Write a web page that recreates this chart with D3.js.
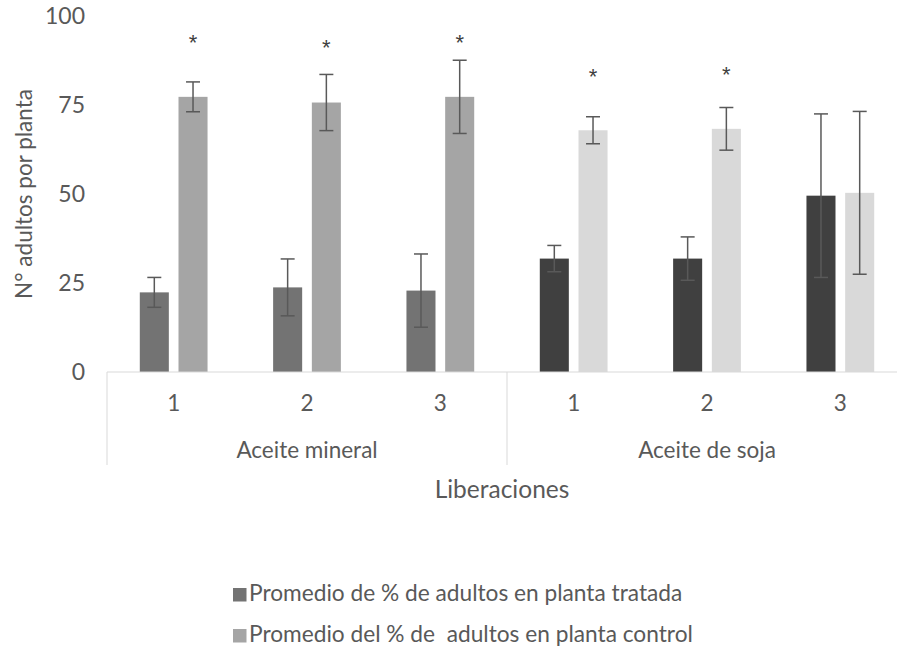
<!DOCTYPE html>
<html>
<head>
<meta charset="utf-8">
<script src="https://cdn.jsdelivr.net/npm/d3@7/dist/d3.min.js"></script>
<style>
  html, body { margin: 0; padding: 0; background: #fff; }
  svg { display: block; font-family: Lato, "Open Sans", sans-serif; }
</style>
</head>
<body>
<svg id="chart" width="897" height="654"></svg>
<script>
// Releases (Liberaciones) grouped by oil treatment
const groups = ["Aceite mineral", "Aceite de soja"];
const releases = ["1", "2", "3"];
const categoryGroup = [0, 0, 0, 1, 1, 1];
const categoryLabel = ["1", "2", "3", "1", "2", "3"];

// Mean % of adults per plant and error half-widths
const treated = [22.4, 23.8, 22.9, 31.9, 31.9, 49.6];
const treatedErr = [4.2, 8.0, 10.3, 3.7, 6.1, 23.0];
const control = [77.4, 75.8, 77.4, 68.0, 68.4, 50.4];
const controlErr = [4.2, 7.9, 10.3, 3.8, 6.0, 22.9];

// Significance marks over the control bars (axis units)
const starAt = [94.0, 92.6, 94.0, 84.6, 85.1, null];

const yTicks = [0, 25, 50, 75, 100];
const seriesNames = [
  "Promedio de % de adultos en planta tratada",
  "Promedio del % de  adultos en planta control"
];

const colors = {
  treated: ["#737373", "#404040"],
  control: ["#a5a5a5", "#d9d9d9"]
};
const textColor = "#595959";
const lineColor = "#d9d9d9";

const svg = d3.select("#chart");
const plot = { left: 107, right: 907, top: 16.5, bottom: 372 };

const y = d3.scaleLinear().domain([0, 100]).range([plot.bottom, plot.top]);
const x0 = d3.scaleBand()
  .domain(d3.range(categoryLabel.length))
  .range([plot.left, plot.right])
  .padding(0);
const x1 = d3.scaleBand()
  .domain(["treated", "control"])
  .range([0, x0.bandwidth()])
  .paddingInner(0.25)
  .paddingOuter(0.847);

// Y axis tick labels (no axis line, no gridlines)
const yAxis = d3.axisLeft(y).tickValues(yTicks).tickSize(0).tickPadding(0);
const yg = svg.append("g")
  .attr("transform", `translate(${plot.left - 22},0)`)
  .call(yAxis);
yg.select(".domain").remove();
yg.selectAll("text")
  .attr("fill", textColor)
  .style("font-size", "23px")
  .style("font-family", "Lato, sans-serif")
  .attr("text-anchor", "end");

// Bars
const rows = d3.range(categoryLabel.length).map(i => ({
  i,
  g: categoryGroup[i],
  bars: [
    { key: "treated", v: treated[i], e: treatedErr[i] },
    { key: "control", v: control[i], e: controlErr[i] }
  ]
}));

const cat = svg.append("g").selectAll("g")
  .data(rows).join("g")
  .attr("transform", d => `translate(${x0(d.i)},0)`);

cat.selectAll("rect")
  .data(d => d.bars.map(b => ({ ...b, g: d.g })))
  .join("rect")
  .attr("x", b => x1(b.key))
  .attr("width", x1.bandwidth())
  .attr("y", b => y(b.v))
  .attr("height", b => y(0) - y(b.v))
  .attr("fill", b => colors[b.key][b.g]);

// Error bars
const cap = 7;
const eb = cat.selectAll("g.err")
  .data(d => d.bars)
  .join("g").attr("class", "err")
  .attr("stroke", "#595959")
  .attr("stroke-width", 1.5)
  .attr("fill", "none");
eb.append("line")
  .attr("x1", b => x1(b.key) + x1.bandwidth() / 2)
  .attr("x2", b => x1(b.key) + x1.bandwidth() / 2)
  .attr("y1", b => y(b.v + b.e))
  .attr("y2", b => y(b.v - b.e));
eb.append("line")
  .attr("x1", b => x1(b.key) + x1.bandwidth() / 2 - cap)
  .attr("x2", b => x1(b.key) + x1.bandwidth() / 2 + cap)
  .attr("y1", b => y(b.v + b.e))
  .attr("y2", b => y(b.v + b.e));
eb.append("line")
  .attr("x1", b => x1(b.key) + x1.bandwidth() / 2 - cap)
  .attr("x2", b => x1(b.key) + x1.bandwidth() / 2 + cap)
  .attr("y1", b => y(b.v - b.e))
  .attr("y2", b => y(b.v - b.e));

// Asterisks
cat.filter(d => starAt[d.i] != null)
  .append("text")
  .attr("x", x1("control") + x1.bandwidth() / 2)
  .attr("y", d => y(starAt[d.i]) + 12.5)
  .attr("text-anchor", "middle")
  .attr("fill", "#404040")
  .style("font-family", "'Liberation Sans', Arial, sans-serif")
  .style("font-size", "22px")
  .text("*");

// Horizontal category axis line
svg.append("line")
  .attr("x1", plot.left).attr("x2", plot.right)
  .attr("y1", y(0)).attr("y2", y(0))
  .attr("stroke", lineColor).attr("stroke-width", 1);

// Group separators
const groupBounds = [0, 3, 6];
svg.selectAll("line.sep")
  .data(groupBounds).join("line").attr("class", "sep")
  .attr("x1", i => i < 6 ? x0(i) : plot.right)
  .attr("x2", i => i < 6 ? x0(i) : plot.right)
  .attr("y1", y(0)).attr("y2", 465)
  .attr("stroke", lineColor).attr("stroke-width", 1);

// Release labels
svg.append("g").selectAll("text")
  .data(rows).join("text")
  .attr("x", d => x0(d.i) + x0.bandwidth() / 2)
  .attr("y", 411)
  .attr("text-anchor", "middle")
  .attr("fill", textColor)
  .style("font-size", "22.5px")
  .text(d => categoryLabel[d.i]);

// Group labels
svg.append("g").selectAll("text")
  .data(groups).join("text")
  .attr("x", (g, k) => (x0(k * 3) + x0(k * 3 + 2) + x0.bandwidth()) / 2)
  .attr("y", 457.5)
  .attr("text-anchor", "middle")
  .attr("fill", textColor)
  .style("font-size", "22.5px")
  .text(g => g);

// Axis titles
svg.append("text")
  .attr("x", 502).attr("y", 497.5)
  .attr("text-anchor", "middle")
  .attr("fill", textColor)
  .style("font-size", "24.5px")
  .text("Liberaciones");

svg.append("text")
  .attr("transform", "translate(32,194) rotate(-90)")
  .attr("text-anchor", "middle")
  .attr("fill", textColor)
  .style("font-size", "22.5px")
  .text("N° adultos por planta");

// Legend
const legend = svg.append("g").selectAll("g")
  .data(seriesNames).join("g")
  .attr("transform", (d, k) => `translate(233,${601 + k * 41})`);
legend.append("rect")
  .attr("x", 0).attr("y", -13).attr("width", 13.5).attr("height", 13.5)
  .attr("fill", (d, k) => k === 0 ? colors.treated[0] : colors.control[0]);
legend.append("text")
  .attr("x", 16).attr("y", 0)
  .attr("fill", textColor)
  .style("font-size", "22.7px")
  .attr("xml:space", "preserve")
  .text(d => d);
</script>
</body>
</html>
